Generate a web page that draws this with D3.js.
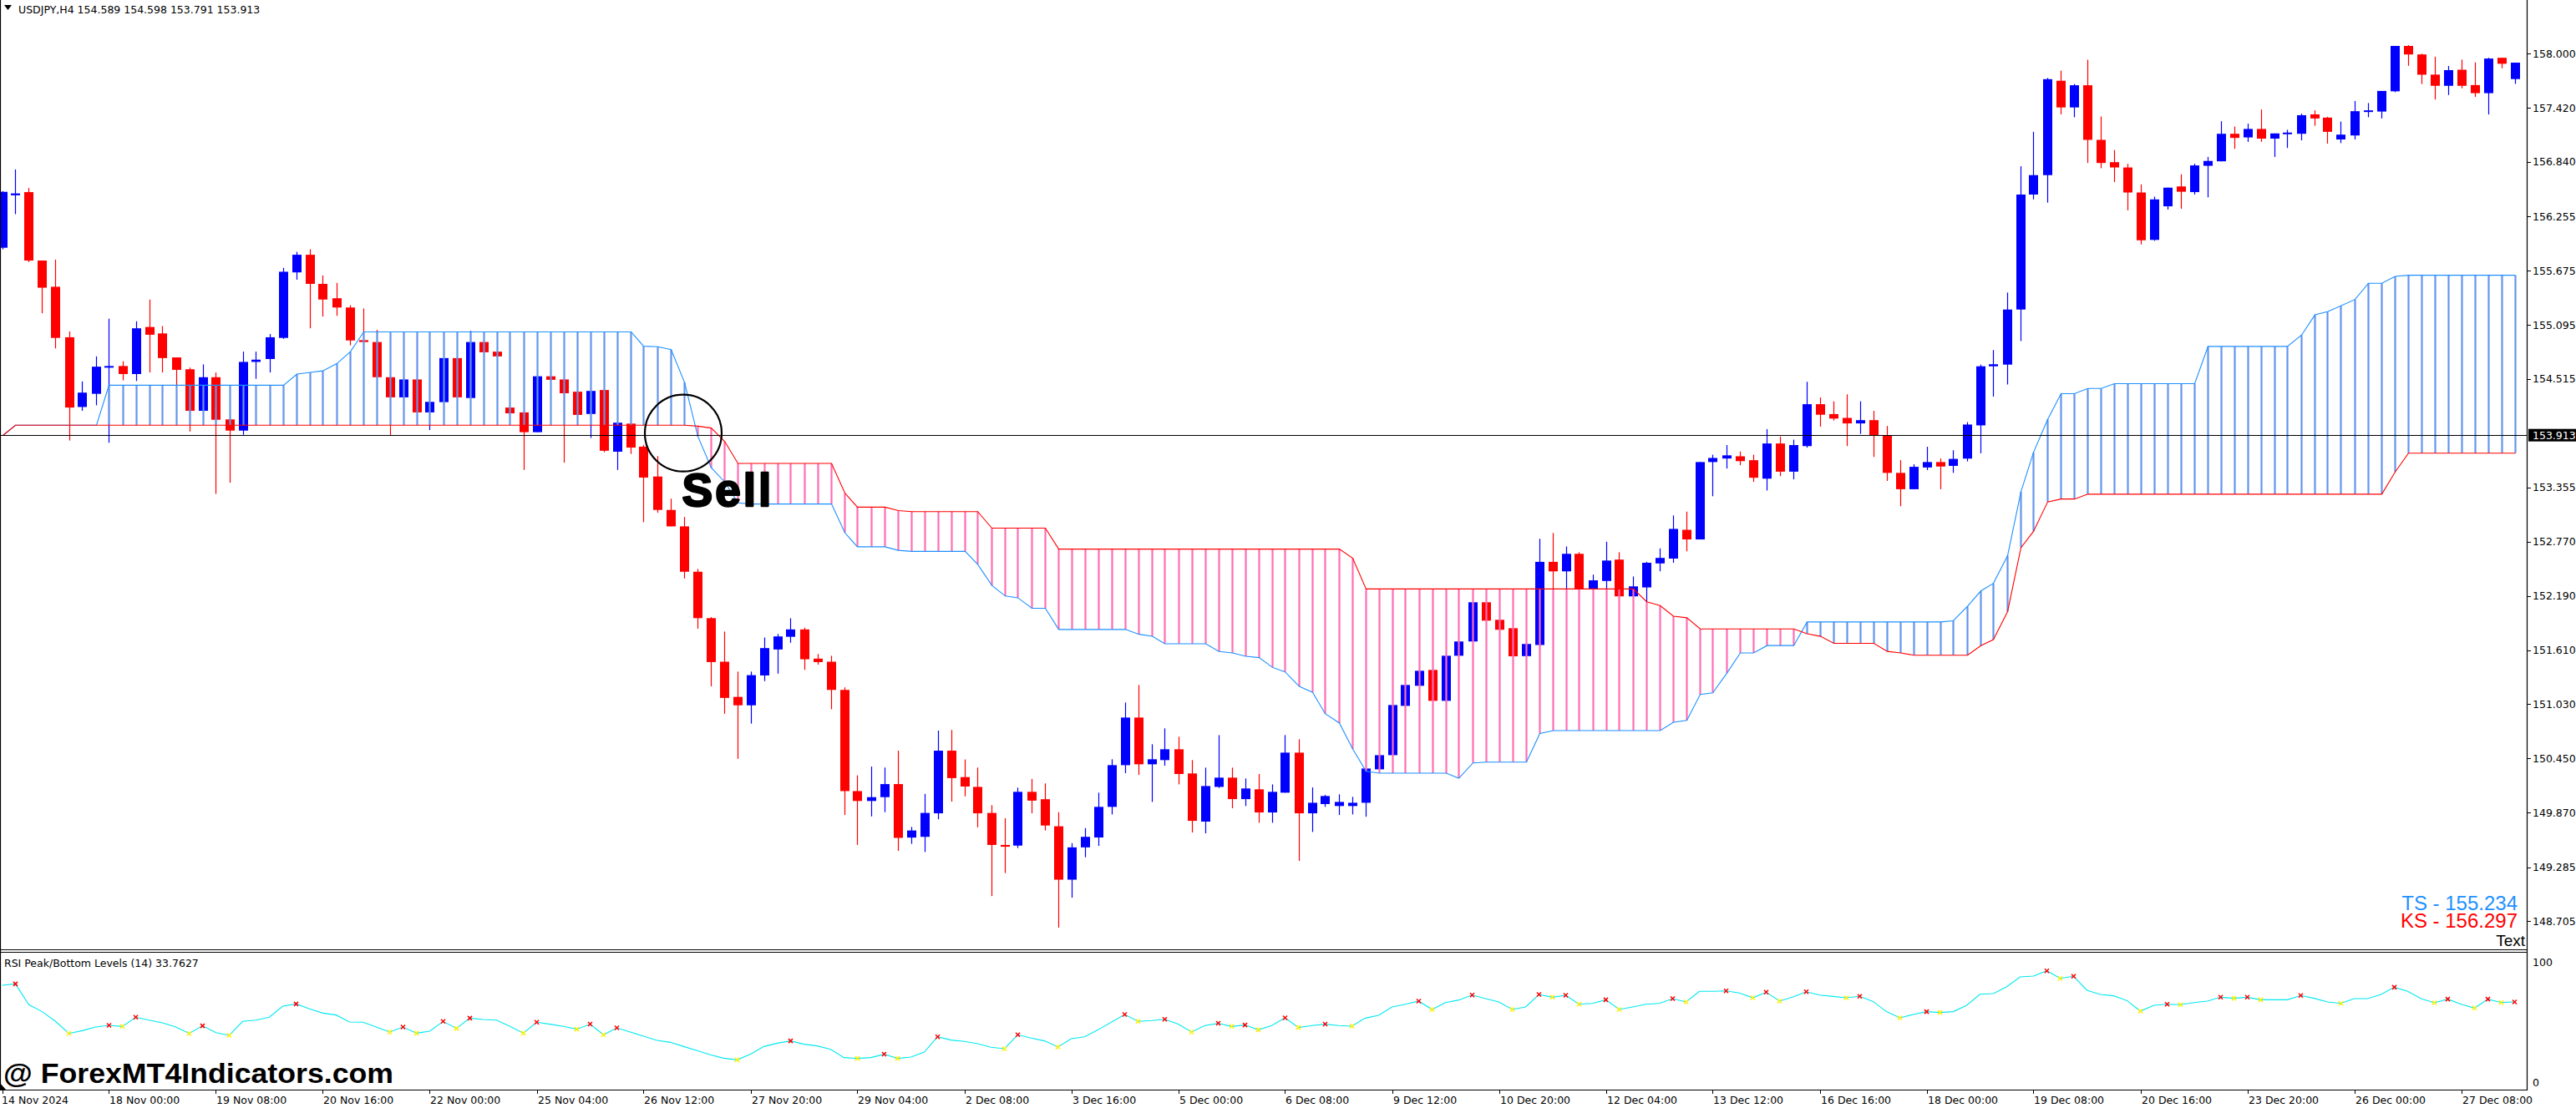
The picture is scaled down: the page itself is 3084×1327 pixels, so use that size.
<!DOCTYPE html>
<html><head><meta charset="utf-8">
<script src="https://cdn.jsdelivr.net/npm/d3@7"></script>
<style>html,body{margin:0;padding:0;background:#fff;overflow:hidden}</style>
</head><body>
<svg id="c" width="3084" height="1327"></svg>
<script>
// ---------- DATA ----------
const symbolTitle = "USDJPY,H4  154.589 154.598 153.791 153.913";
const rsiTitle = "RSI Peak/Bottom Levels (14)  33.7627";
const currentPrice = 153.913;
const tsText = "TS - 155.234";
const ksText = "KS - 156.297";

const opens = [155.921,156.483,156.517,155.784,155.503,154.962,154.215,154.356,154.637,154.654,154.568,155.072,155.003,154.746,154.619,154.174,154.534,154.082,153.962,154.698,154.729,154.955,155.657,155.846,155.534,155.380,155.281,154.931,154.911,154.534,154.318,154.510,154.157,154.267,154.739,154.311,154.911,154.808,154.209,154.157,153.945,154.544,154.510,154.379,154.140,154.397,153.736,154.037,153.790,153.470,153.112,152.936,152.450,151.953,151.486,151.109,151.019,151.339,151.617,151.753,151.832,151.519,151.486,151.184,150.100,149.994,150.035,150.175,149.602,149.610,149.862,150.533,150.250,150.145,149.866,149.523,149.516,150.092,150.013,149.723,149.151,149.497,149.603,149.931,150.378,150.888,150.387,150.432,150.548,150.289,149.773,150.145,150.244,150.014,150.119,149.871,150.083,150.512,149.862,149.961,149.940,149.940,149.975,150.333,150.485,151.013,151.228,151.398,151.067,151.550,151.703,152.123,151.935,151.845,151.546,151.665,152.556,152.454,152.642,152.265,152.351,152.580,152.186,152.282,152.539,152.591,152.899,152.796,153.625,153.663,153.687,153.645,153.447,153.824,153.522,153.796,154.245,154.139,154.098,154.039,154.074,153.909,153.509,153.334,153.567,153.625,153.584,153.662,154.018,154.651,154.669,155.259,156.491,156.699,157.710,157.424,157.662,157.077,156.838,156.781,156.513,156.005,156.365,156.578,156.517,156.799,156.847,157.142,157.103,157.194,157.090,157.150,157.142,157.350,157.315,157.081,157.124,157.389,157.380,157.597,158.083,157.992,157.776,157.656,157.828,157.664,157.577,157.956,157.728];
const highs = [156.527,156.760,156.561,155.784,155.794,155.024,154.489,154.757,155.161,154.705,155.133,155.366,155.082,154.746,154.637,154.671,154.585,154.090,154.808,154.808,154.996,155.705,155.877,155.904,155.623,155.544,155.305,155.270,155.041,154.534,154.534,154.510,154.270,154.739,154.739,155.031,154.911,154.808,154.209,154.157,154.544,154.544,154.510,154.379,154.387,154.397,154.047,154.037,153.809,153.689,153.233,153.037,152.480,151.964,151.809,151.380,151.380,151.745,151.783,151.952,151.851,151.568,151.550,151.211,150.269,150.363,150.352,150.533,149.716,150.070,150.748,150.755,150.439,150.352,149.949,149.810,150.137,150.231,150.182,149.874,149.542,149.704,150.083,150.441,151.049,151.237,150.602,150.772,150.682,150.432,150.351,150.700,150.351,150.235,150.283,150.172,150.700,150.655,150.139,150.059,150.065,150.038,150.342,150.485,151.022,151.237,151.389,151.398,151.550,151.703,152.123,152.123,151.935,151.845,151.676,152.803,152.865,152.721,152.659,152.419,152.772,152.659,152.399,152.556,152.700,153.053,153.094,153.625,153.704,153.807,153.738,153.704,153.978,153.899,153.865,154.485,154.317,154.276,154.351,154.276,154.173,154.012,153.645,153.601,153.789,153.663,153.752,154.053,154.669,154.825,155.441,156.794,157.163,157.740,157.818,157.675,157.935,157.328,156.968,156.821,156.599,156.469,156.565,156.708,156.821,156.894,157.276,157.220,157.250,157.402,157.146,157.185,157.358,157.393,157.324,157.272,157.493,157.471,157.601,158.083,158.092,158.000,157.968,157.868,157.936,157.908,157.956,157.956,157.904];
const lows = [155.904,156.281,155.767,155.219,154.842,153.856,154.174,154.233,153.832,154.500,154.493,154.585,154.585,154.448,153.952,154.174,153.284,153.404,153.917,154.517,154.585,154.945,155.579,155.058,155.185,155.192,154.876,154.900,154.534,153.911,154.318,154.157,153.968,154.267,154.318,154.311,154.801,154.757,154.147,153.541,153.945,154.506,153.619,154.130,153.883,153.730,153.541,153.712,152.981,153.082,152.936,152.378,151.840,151.222,150.928,150.446,150.823,151.278,151.358,151.689,151.399,151.455,150.977,149.844,149.523,149.829,149.874,149.460,149.535,149.448,149.798,149.987,150.043,149.712,148.975,149.222,149.490,149.862,149.678,148.638,148.958,149.391,149.513,149.850,150.292,150.274,149.984,150.372,150.172,149.656,149.647,150.134,149.916,149.940,149.761,149.761,150.083,149.352,149.662,149.931,149.844,149.850,149.826,150.333,150.485,151.013,151.228,151.067,151.067,151.550,151.703,151.926,151.828,151.544,151.546,151.649,152.265,152.265,152.265,152.265,152.265,152.186,152.186,152.128,152.454,152.546,152.669,152.796,153.259,153.556,153.591,153.413,153.320,153.474,153.440,153.779,154.005,154.070,153.796,153.926,153.680,153.423,153.152,153.334,153.539,153.334,153.509,153.632,153.719,154.326,154.456,154.921,156.439,156.404,157.350,157.319,156.829,156.773,156.625,156.322,155.957,155.996,156.330,156.339,156.491,156.461,156.847,156.981,157.055,157.055,156.894,156.990,157.072,157.228,157.037,157.042,157.081,157.319,157.306,157.588,157.870,157.675,157.509,157.557,157.629,157.537,157.349,157.844,157.677];
const closes = [156.520,156.503,155.784,155.493,154.955,154.209,154.369,154.647,154.654,154.568,155.058,154.989,154.739,154.613,154.174,154.534,154.078,153.962,154.698,154.722,154.962,155.664,155.846,155.534,155.366,155.281,154.928,154.911,154.534,154.318,154.510,154.157,154.270,154.739,154.318,154.911,154.801,154.757,154.147,153.945,154.544,154.506,154.362,154.130,154.387,153.746,154.047,153.780,153.459,153.112,152.936,152.450,151.953,151.482,151.098,151.019,151.342,151.632,151.757,151.832,151.512,151.482,151.184,150.100,149.994,150.035,150.175,149.599,149.678,149.866,150.533,150.239,150.149,149.862,149.523,149.504,150.092,149.998,149.731,149.151,149.497,149.610,149.931,150.378,150.888,150.387,150.441,150.548,150.283,149.781,150.154,150.244,150.014,150.128,149.871,150.092,150.512,149.862,149.975,150.047,149.984,149.975,150.342,150.485,151.022,151.237,151.389,151.067,151.550,151.703,152.123,151.926,151.828,151.544,151.676,152.556,152.454,152.642,152.265,152.358,152.570,152.186,152.293,152.546,152.598,152.909,152.796,153.625,153.669,153.697,153.635,153.457,153.824,153.522,153.807,154.245,154.132,154.091,154.039,154.074,153.909,153.509,153.334,153.574,153.625,153.577,153.659,154.027,154.651,154.673,155.259,156.491,156.699,157.727,157.424,157.662,157.077,156.829,156.781,156.513,156.001,156.439,156.565,156.521,156.803,156.851,157.142,157.098,157.194,157.090,157.146,157.155,157.341,157.306,157.163,157.133,157.384,157.393,157.601,158.083,157.992,157.775,157.656,157.824,157.656,157.577,157.948,157.892,157.904];

// Ichimoku cloud: Senkou Span A (blue) and Senkou Span B (red), one value per bar
const spanA = [153.91,154.02,154.02,154.02,154.02,154.02,154.02,154.02,154.448,154.448,154.448,154.448,154.448,154.448,154.448,154.448,154.448,154.448,154.448,154.448,154.448,154.448,154.568,154.585,154.602,154.681,154.808,155.020,155.020,155.020,155.020,155.020,155.020,155.020,155.020,155.020,155.020,155.020,155.020,155.020,155.020,155.020,155.020,155.020,155.020,155.020,155.020,155.020,154.866,154.860,154.830,154.480,153.900,153.564,153.414,153.188,153.176,153.176,153.176,153.176,153.176,153.176,153.176,152.868,152.717,152.717,152.717,152.679,152.668,152.668,152.668,152.668,152.668,152.529,152.303,152.190,152.171,152.058,152.058,151.832,151.832,151.832,151.832,151.832,151.832,151.780,151.759,151.679,151.679,151.679,151.679,151.595,151.580,151.544,151.530,151.425,151.377,151.222,151.157,150.930,150.829,150.551,150.312,150.292,150.292,150.292,150.292,150.292,150.292,150.238,150.402,150.411,150.411,150.411,150.411,150.717,150.748,150.748,150.748,150.748,150.748,150.748,150.748,150.748,150.748,150.837,150.858,151.135,151.152,151.364,151.580,151.580,151.659,151.659,151.659,151.912,151.912,151.912,151.912,151.912,151.912,151.912,151.912,151.912,151.912,151.912,151.925,152.079,152.244,152.326,152.621,153.307,153.728,154.083,154.357,154.357,154.413,154.413,154.465,154.465,154.465,154.465,154.465,154.465,154.465,154.864,154.864,154.864,154.864,154.864,154.864,154.864,154.986,155.202,155.237,155.298,155.367,155.541,155.541,155.614,155.627,155.627,155.627,155.627,155.627,155.627,155.627,155.627,155.627];
const spanB = [153.91,154.02,154.02,154.02,154.02,154.02,154.02,154.02,154.02,154.02,154.02,154.02,154.02,154.02,154.02,154.02,154.02,154.02,154.02,154.02,154.02,154.02,154.02,154.02,154.02,154.02,154.02,154.02,154.02,154.02,154.02,154.02,154.02,154.02,154.02,154.02,154.02,154.02,154.02,154.02,154.02,154.02,154.02,154.02,154.02,154.02,154.02,154.02,154.02,154.02,154.02,154.02,154.010,153.990,153.847,153.610,153.610,153.610,153.610,153.610,153.610,153.610,153.610,153.293,153.142,153.142,153.142,153.105,153.094,153.094,153.094,153.094,153.094,153.094,152.917,152.917,152.917,152.917,152.917,152.693,152.693,152.693,152.693,152.693,152.693,152.693,152.693,152.693,152.693,152.693,152.693,152.693,152.693,152.693,152.693,152.693,152.693,152.693,152.693,152.693,152.693,152.594,152.265,152.265,152.265,152.265,152.265,152.265,152.265,152.265,152.265,152.265,152.265,152.265,152.265,152.265,152.265,152.265,152.265,152.265,152.265,152.265,152.265,152.128,152.087,151.974,151.957,151.837,151.837,151.837,151.837,151.837,151.837,151.837,151.837,151.786,151.758,151.683,151.683,151.683,151.683,151.597,151.580,151.556,151.556,151.556,151.556,151.556,151.658,151.723,152.023,152.708,152.882,153.198,153.229,153.229,153.281,153.281,153.281,153.281,153.281,153.281,153.281,153.281,153.281,153.281,153.281,153.281,153.281,153.281,153.281,153.281,153.281,153.281,153.281,153.281,153.281,153.281,153.281,153.519,153.720,153.720,153.720,153.720,153.720,153.720,153.720,153.720,153.720];

// RSI(14) values, one per bar
const rsiValues = [80.6,81.7,64.4,58.6,50.5,40.5,42.8,45.8,47.2,46.3,54.0,51.6,49.3,45.8,40.5,46.8,41.2,38.9,50.5,51.6,54.0,63.2,65.0,60.9,57.4,55.8,50.0,49.8,45.8,41.7,45.8,40.7,42.4,50.5,44.7,53.2,52.1,51.6,46.3,40.7,49.8,48.2,46.3,44.0,48.2,39.4,45.1,41.7,38.2,34.7,33.1,29.6,26.2,22.7,19.9,18.5,23.2,29.6,32.4,34.3,31.5,30.1,27.3,20.4,19.7,20.4,23.2,19.7,20.8,25.0,37.7,35.0,33.8,32.0,29.0,27.8,39.4,36.6,34.3,29.2,36.1,37.7,43.5,49.8,56.2,50.5,51.2,52.3,48.2,41.7,47.0,48.9,46.3,47.5,43.5,47.0,53.5,45.4,47.0,48.2,47.0,46.5,53.2,55.5,62.5,64.8,67.4,60.4,66.2,68.3,72.4,69.4,66.7,60.4,62.5,72.9,70.6,72.2,64.8,65.5,68.5,60.4,62.5,64.8,65.5,69.4,66.7,75.5,75.5,75.9,74.1,70.1,74.8,67.4,70.8,75.2,72.4,71.3,70.1,71.3,67.1,58.6,53.5,56.2,58.6,57.9,58.6,63.9,73.1,73.6,79.4,87.5,88.2,92.6,86.3,88.0,76.4,72.9,71.8,67.8,59.0,63.9,64.8,64.4,66.2,67.4,70.6,69.7,70.6,68.5,68.5,68.5,72.0,69.7,66.7,65.5,69.4,69.4,72.9,78.9,75.5,69.4,66.0,69.0,64.8,61.6,69.0,66.2,66.7];
const rsiPeaks = [1,8,10,15,22,30,33,35,40,44,46,59,66,70,76,84,87,91,93,96,99,106,110,115,117,120,125,129,132,135,139,144,153,155,162,166,168,172,179,183,186,188];
const rsiBottoms = [5,9,14,17,29,31,34,39,43,45,55,64,67,75,79,85,89,92,94,97,101,107,113,116,118,121,126,131,133,138,142,145,154,160,163,167,169,175,182,185,187];

const priceTicks = [158.000,157.420,156.840,156.255,155.675,155.095,154.515,153.355,152.770,152.190,151.610,151.030,150.450,149.870,149.285,148.705];
const timeLabels = ["14 Nov 2024","18 Nov 00:00","19 Nov 08:00","20 Nov 16:00","22 Nov 00:00","25 Nov 04:00","26 Nov 12:00","27 Nov 20:00","29 Nov 04:00","2 Dec 08:00","3 Dec 16:00","5 Dec 00:00","6 Dec 08:00","9 Dec 12:00","10 Dec 20:00","12 Dec 04:00","13 Dec 12:00","16 Dec 16:00","18 Dec 00:00","19 Dec 08:00","20 Dec 16:00","23 Dec 20:00","26 Dec 00:00","27 Dec 08:00"];
const labelEvery = 8;
const rsiLevelLabels = [100, 0];
const signalBar = 51;   // bar where the "Sell" circle is drawn
const signalText = "Sell";

// ---------- LAYOUT ----------
const W = 3084, H = 1327;
const axisX = 3025, mainBottom = 1137, subTop = 1140, timeAxisY = 1305;
const n = opens.length;
const svg = d3.select("#c");
const axisFont = "'DejaVu Sans', sans-serif";

const x = d3.scaleLinear().domain([0, n - 1]).range([2.5, 3010.5]);
const y = d3.scaleLinear().domain([148.705, 158.0]).range([1103.4, 64.3]);
const yr = d3.scaleLinear().domain([0, 100]).range([1296, 1152]);

svg.append("rect").attr("width", W).attr("height", H).attr("fill", "#fff");

const defs = svg.append("defs");
defs.append("clipPath").attr("id", "mainClip").append("rect")
  .attr("x", 0).attr("y", 0).attr("width", axisX).attr("height", mainBottom);
defs.append("clipPath").attr("id", "subClip").append("rect")
  .attr("x", 0).attr("y", subTop + 1).attr("width", axisX).attr("height", timeAxisY - subTop - 1);

const main = svg.append("g").attr("clip-path", "url(#mainClip)");

// candles
const idx = d3.range(n);
const bodyW = 11;
const cg = main.append("g");
cg.selectAll("line.wick").data(idx).join("line")
  .attr("x1", i => Math.round(x(i)) + 0.5).attr("x2", i => Math.round(x(i)) + 0.5)
  .attr("y1", i => y(highs[i])).attr("y2", i => y(lows[i]))
  .attr("stroke", i => closes[i] >= opens[i] ? "#0000ff" : "#ff0000").attr("stroke-width", 1.2);
cg.selectAll("rect.body").data(idx).join("rect")
  .attr("x", i => Math.round(x(i)) + 0.5 - bodyW / 2).attr("width", bodyW)
  .attr("y", i => y(Math.max(opens[i], closes[i])))
  .attr("height", i => Math.max(2, Math.abs(y(opens[i]) - y(closes[i]))))
  .attr("fill", i => closes[i] >= opens[i] ? "#0000ff" : "#ff0000");

// cloud hatches
const hg = main.append("g");
hg.selectAll("line").data(idx.filter(i => Math.abs(spanA[i] - spanB[i]) > 0.001)).join("line")
  .attr("x1", i => Math.round(x(i)) + 0.5).attr("x2", i => Math.round(x(i)) + 0.5)
  .attr("y1", i => y(spanA[i])).attr("y2", i => y(spanB[i]))
  .attr("stroke", i => spanA[i] > spanB[i] ? "#6495ed" : "#ff6eb4").attr("stroke-width", 2.2);

const lineGen = arr => d3.line().x(i => Math.round(x(i)) + 0.5).y(i => y(arr[i]))(idx);
main.append("path").attr("d", lineGen(spanA)).attr("fill", "none").attr("stroke", "#1e90ff").attr("stroke-width", 1.1);
main.append("path").attr("d", lineGen(spanB)).attr("fill", "none").attr("stroke", "#ff0000").attr("stroke-width", 1.1);

// current price line
main.append("line").attr("x1", 0).attr("x2", axisX).attr("y1", Math.round(y(currentPrice)) + 0.5).attr("y2", Math.round(y(currentPrice)) + 0.5)
  .attr("stroke", "#000").attr("stroke-width", 1.2);

// Sell annotation
main.append("ellipse").attr("cx", x(signalBar) - 0.5).attr("cy", y(currentPrice) - 2.5).attr("rx", 46).attr("ry", 46)
  .attr("fill", "none").attr("stroke", "#000").attr("stroke-width", 2.2);
main.append("text").attr("x", x(signalBar) - 2).attr("y", 606).text(signalText)
  .attr("font-family", "'Liberation Sans', Arial, sans-serif").attr("font-weight", "bold").attr("font-size", 55)
  .attr("letter-spacing", 3).attr("stroke", "#000").attr("stroke-width", 2.4).attr("stroke-linejoin", "round")
  .attr("fill", "#000");

// TS / KS / Text
main.append("text").attr("x", 3014).attr("y", 1090).attr("text-anchor", "end").text(tsText)
  .attr("font-family", "'Liberation Sans', Arial, sans-serif").attr("font-size", 24).attr("fill", "#1e90ff");
main.append("text").attr("x", 3014).attr("y", 1111).attr("text-anchor", "end").text(ksText)
  .attr("font-family", "'Liberation Sans', Arial, sans-serif").attr("font-size", 24).attr("fill", "#ff0000");
main.append("text").attr("x", 3023).attr("y", 1133).attr("text-anchor", "end").text("Text")
  .attr("font-family", "'Liberation Sans', Arial, sans-serif").attr("font-size", 19).attr("fill", "#000");

// title
svg.append("path").attr("d", "M5,6 L14,6 L9.5,12 Z").attr("fill", "#000");
svg.append("text").attr("x", 22).attr("y", 16).text(symbolTitle)
  .attr("font-family", axisFont).attr("font-size", 12.5).attr("fill", "#000");

// ---------- RSI sub-window ----------
const sub = svg.append("g").attr("clip-path", "url(#subClip)");
sub.append("path").attr("d", d3.line().x(i => x(i)).y(i => yr(rsiValues[i]))(idx))
  .attr("fill", "none").attr("stroke", "#00e8f0").attr("stroke-width", 1.1);
function cross(g, i, color) {
  const cx = x(i), cy = yr(rsiValues[i]);
  g.append("path").attr("d", `M${cx - 2.5},${cy - 2.5}L${cx + 2.5},${cy + 2.5}M${cx - 2.5},${cy + 2.5}L${cx + 2.5},${cy - 2.5}`)
    .attr("stroke", color).attr("stroke-width", 1.5).attr("fill", "none");
}
rsiPeaks.forEach(i => cross(sub, i, "#ff0000"));
rsiBottoms.forEach(i => cross(sub, i, "#ffee00"));
svg.append("text").attr("x", 5).attr("y", 1158).text(rsiTitle)
  .attr("font-family", axisFont).attr("font-size", 12.5).attr("fill", "#000");

// watermark
svg.append("text").attr("x", 4).attr("y", 1297).text("@ ForexMT4Indicators.com")
  .attr("font-family", "'Liberation Sans', Arial, sans-serif").attr("font-weight", "bold").attr("font-size", 33)
  .attr("textLength", 467).attr("lengthAdjust", "spacingAndGlyphs").attr("fill", "#000");
svg.append("path").attr("d", "M0,1297 L0,1305 L7,1305 Z").attr("fill", "#000");

// ---------- frame & axes ----------
const frame = svg.append("g").attr("stroke", "#000").attr("stroke-width", 1.2);
frame.append("line").attr("x1", 0.5).attr("x2", 0.5).attr("y1", 0).attr("y2", timeAxisY);
frame.append("line").attr("x1", axisX + 0.5).attr("x2", axisX + 0.5).attr("y1", 0).attr("y2", timeAxisY + 1);
frame.append("line").attr("x1", 0).attr("x2", axisX).attr("y1", mainBottom + 0.5).attr("y2", mainBottom + 0.5);
frame.append("line").attr("x1", 0).attr("x2", axisX).attr("y1", subTop + 0.5).attr("y2", subTop + 0.5);
frame.append("line").attr("x1", 0).attr("x2", axisX).attr("y1", timeAxisY + 0.5).attr("y2", timeAxisY + 0.5);

// price axis
const pa = svg.append("g");
pa.selectAll("line").data(priceTicks).join("line")
  .attr("x1", axisX).attr("x2", axisX + 5).attr("y1", d => Math.round(y(d)) + 0.5).attr("y2", d => Math.round(y(d)) + 0.5)
  .attr("stroke", "#000");
pa.selectAll("text").data(priceTicks).join("text")
  .attr("x", axisX + 7).attr("y", d => y(d)).attr("dy", "0.36em").text(d => d.toFixed(3))
  .attr("font-family", axisFont).attr("font-size", 12.5).attr("fill", "#000");
// current price box
pa.append("rect").attr("x", axisX + 2).attr("y", y(currentPrice) - 7.5).attr("width", W - axisX - 2).attr("height", 15).attr("fill", "#000");
pa.append("text").attr("x", axisX + 7).attr("y", y(currentPrice)).attr("dy", "0.36em").text(currentPrice.toFixed(3))
  .attr("font-family", axisFont).attr("font-size", 12.5).attr("fill", "#fff");

// RSI axis labels
svg.selectAll("text.rl").data(rsiLevelLabels).join("text").attr("class", "rl")
  .attr("x", axisX + 7).attr("y", d => yr(d)).attr("dy", "0.36em").text(d => d)
  .attr("font-family", axisFont).attr("font-size", 12.5).attr("fill", "#000");

// time axis
const ta = svg.append("g");
ta.selectAll("line").data(timeLabels).join("line")
  .attr("x1", (d, k) => Math.round(x(k * labelEvery)) + 0.5).attr("x2", (d, k) => Math.round(x(k * labelEvery)) + 0.5)
  .attr("y1", timeAxisY).attr("y2", timeAxisY + 5).attr("stroke", "#000");
ta.selectAll("text").data(timeLabels).join("text")
  .attr("x", (d, k) => k === 0 ? 2 : Math.round(x(k * labelEvery)) + 1).attr("y", 1322).text(d => d)
  .attr("font-family", axisFont).attr("font-size", 12.5).attr("fill", "#000");
</script>
</body></html>
